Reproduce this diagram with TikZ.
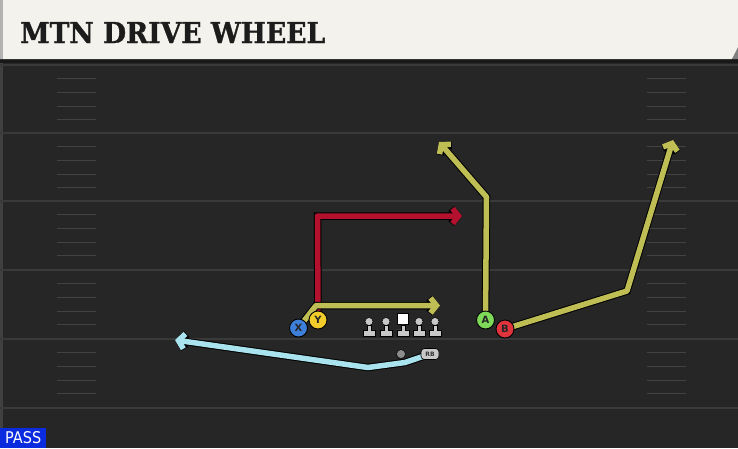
\documentclass[tikz,border=0pt]{standalone}
\usepackage{fontspec}
\setsansfont{DejaVu Sans}
\newfontfamily\ttlfont{DejaVu Serif}[BoldFeatures = {FakeBold = 1.2}]
\usepackage{graphicx}
\usetikzlibrary{positioning, arrows.meta}
\definecolor{cream}{HTML}{F4F2EC}
\definecolor{turf}{HTML}{262626}
\definecolor{yard}{HTML}{3A3A3A}
\definecolor{hashc}{HTML}{424242}
\definecolor{ttlink}{HTML}{1C1C1C}
\definecolor{olv}{HTML}{BEBE55}
\definecolor{crim}{HTML}{B3112E}
\definecolor{skyb}{HTML}{A8E3EE}
\definecolor{xblue}{HTML}{3D7FD9}
\definecolor{yyel}{HTML}{F2CC2B}
\definecolor{agrn}{HTML}{7DD957}
\definecolor{bred}{HTML}{E0343D}
\definecolor{lmgrey}{HTML}{C8C8C8}
\definecolor{passblue}{HTML}{0B2BDE}
\pgfdeclarelayer{field}
\pgfdeclarelayer{paths}
\pgfsetlayers{field,paths,main}
\tikzset{%
	route/.style = {line width = 5.5pt, line join = round, -{Straight Barb[length = 6pt, width = 15pt]}, preaction = {draw = black, line width = 7.5pt}},
	hash/.style = {draw = hashc, line width = 1.2pt},
	skl/.style = {name = #1, circle, draw = black, line width = .9pt, minimum size = 18pt, inner sep = 0pt, label = {[text = black!85]center:\sffamily\bfseries\fontsize{10}{10}\selectfont #1}},
	olm/.style = {name = #1, circle, draw = black, line width = .5pt, fill = lmgrey, minimum size = 8pt, inner sep = 0pt}
}
\begin{document}
\begin{tikzpicture}[x = 1pt, y = -1pt]
	\useasboundingbox (0,0) rectangle (738,448);
	\begin{pgfonlayer}{field}
		\fill [turf] (0,62) rectangle (738,448);
		\fill [black!75] (0,62) rectangle (2.5,448);
		\foreach \y in {65,133,201,270,339,408}
			\draw [yard, line width = 1.5pt] (0,\y) -- (738,\y);
		\foreach \y in {65,133,201,270,339}
			\foreach \k in {1,...,4} {
				\pgfmathsetmacro{\hy}{\y+13.7*\k}
				\draw [hash] (57,\hy) -- (96,\hy);
				\draw [hash] (647,\hy) -- (686,\hy);
			}
		% header
		\fill [black!90] (0,58) rectangle (738,63);
		\fill [cream] (0,0) -- (738,0) -- (738,47) -- (732,59) -- (0,59) -- cycle;
		\fill [black!30] (0,0) rectangle (3,59);
		\fill [black!50] (732,59) -- (738,47) -- (738,59) -- cycle;
	\end{pgfonlayer}

	\node (ttl) [anchor = west, inner sep = 0pt, text = ttlink] at (20,32.5) {\resizebox{305pt}{21pt}{\ttlfont\bfseries MTN DRIVE WHEEL}};
	\node (pass) [fill = passblue, anchor = south west, minimum width = 46pt, minimum height = 20pt, inner sep = 0pt, text = white] at (0,448) {\resizebox{36pt}{12pt}{\sffamily PASS}};

	% players
	\node [skl = {X}, fill = xblue] at (298.5,328) {};
	\node [skl = {Y}, fill = yyel] at (318,320) {};
	\node [skl = {A}, fill = agrn] at (485.5,320) {};
	\node [skl = {B}, fill = bred] at (505,329) {};

	% line
	\foreach \x/\n in {369/lt, 386/lg, 419/rg, 435/rt}
		\node [olm = \n] at (\x,321.5) {};
	\foreach \x/\n in {369/lt, 386/lg, 419/rg, 435/rt}
		\fill [lmgrey, draw = black, line width = .5pt] ([shift = {(-2,3.5)}]\n.center) -- ++(0,5.5) -- ++(-4,0) -- ++(0,6) -- ++(12,0) -- ++(0,-6) -- ++(-4,0) -- ++(0,-5.5) -- cycle;
	\node (c) [fill = white, draw = black, line width = .5pt, minimum size = 11pt, inner sep = 0pt] at (403,319) {};
	\fill [lmgrey, draw = black, line width = .5pt] ([xshift = -2pt]c.south) -- ++(0,5) -- ++(-4,0) -- ++(0,6) -- ++(12,0) -- ++(0,-6) -- ++(-4,0) -- ++(0,-5) -- cycle;

	\node (qb) [circle, fill = black!45, draw = black, line width = .5pt, minimum size = 9pt, inner sep = 0pt] at (401,354) {};
	\node (rb) [fill = lmgrey, draw = black, line width = .6pt, rounded corners = 3.5pt, minimum width = 18pt, minimum height = 11pt, inner sep = 0pt, font = \sffamily\bfseries\fontsize{6}{6}\selectfont, text = black!80] at (430,354) {RB};

	% routes
	\coordinate (yend) at (462,216);
	\coordinate (xend) at (440,305.5);
	\coordinate (aend) at (439,142);
	\coordinate (bend) at (673,140);
	\coordinate (rbend) at (175,340);
	\begin{pgfonlayer}{paths}
		\draw [route, draw = crim] (Y.center) -- (317.5,216) -- (yend);
		\draw [route, draw = olv] (X.center) -- (316,305.5) -- (xend);
		\draw [route, draw = olv] (A.center) -- (486.5,197) -- (aend);
		\draw [route, draw = olv] (B.center) -- (627,291) -- (bend);
		\draw [route, draw = skyb] (rb.center) -- (405,362.5) -- (368,367.5) -- (rbend);
	\end{pgfonlayer}
\end{tikzpicture}
\end{document}
